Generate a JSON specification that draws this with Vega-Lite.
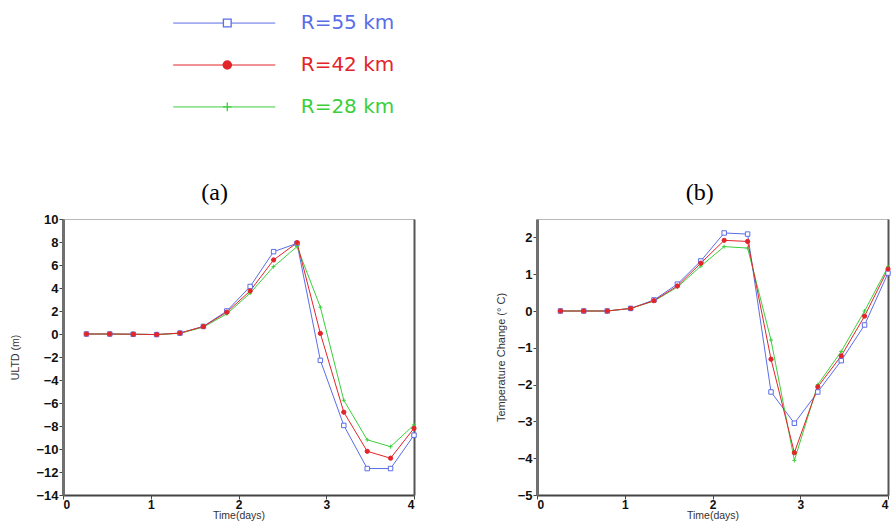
{
  "$schema": "https://vega.github.io/schema/vega-lite/v6.json",
  "background": "white",
  "padding": {"left": 10, "top": 0, "right": 0, "bottom": 0},
  "config": {
    "view": {"stroke": "#b8b8b8", "strokeWidth": 1},
    "font": "Liberation Sans",
    "axis": {
      "grid": false,
      "labelFont": "Liberation Sans",
      "labelFontWeight": "bold",
      "labelFontSize": 13,
      "labelColor": "#111111",
      "titleFont": "Liberation Sans",
      "titleFontWeight": "normal",
      "titleFontSize": 10.5,
      "titleColor": "#333333",
      "tickColor": "#444444",
      "tickSize": 4,
      "domainColor": "#555555"
    },
    "title": {"font": "Liberation Serif", "fontSize": 24, "fontWeight": "normal", "color": "#000000", "offset": 8, "baseline": "bottom", "anchor": "middle", "frame": "bounds"}
  },
  "resolve": {"scale": {"size": "independent"}},
  "datasets": {
    "legend": [
      {"R": "R=55 km", "label": "R=55  km"},
      {"R": "R=42 km", "label": "R=42  km"},
      {"R": "R=28 km", "label": "R=28  km"}
    ],
    "a": [
      {"R": "R=55 km", "t": 0.267, "v": 0},
      {"R": "R=55 km", "t": 0.533, "v": 0},
      {"R": "R=55 km", "t": 0.8, "v": -0.02},
      {"R": "R=55 km", "t": 1.067, "v": -0.05},
      {"R": "R=55 km", "t": 1.333, "v": 0.08},
      {"R": "R=55 km", "t": 1.6, "v": 0.66},
      {"R": "R=55 km", "t": 1.867, "v": 2.0},
      {"R": "R=55 km", "t": 2.133, "v": 4.13},
      {"R": "R=55 km", "t": 2.4, "v": 7.16},
      {"R": "R=55 km", "t": 2.667, "v": 7.88},
      {"R": "R=55 km", "t": 2.933, "v": -2.29},
      {"R": "R=55 km", "t": 3.2, "v": -7.95},
      {"R": "R=55 km", "t": 3.467, "v": -11.7},
      {"R": "R=55 km", "t": 3.733, "v": -11.7},
      {"R": "R=55 km", "t": 4.0, "v": -8.8},
      {"R": "R=28 km", "t": 0.267, "v": 0},
      {"R": "R=28 km", "t": 0.533, "v": 0},
      {"R": "R=28 km", "t": 0.8, "v": -0.02},
      {"R": "R=28 km", "t": 1.067, "v": -0.05},
      {"R": "R=28 km", "t": 1.333, "v": 0.06},
      {"R": "R=28 km", "t": 1.6, "v": 0.6},
      {"R": "R=28 km", "t": 1.867, "v": 1.75},
      {"R": "R=28 km", "t": 2.133, "v": 3.55},
      {"R": "R=28 km", "t": 2.4, "v": 5.86},
      {"R": "R=28 km", "t": 2.667, "v": 7.6},
      {"R": "R=28 km", "t": 2.933, "v": 2.33},
      {"R": "R=28 km", "t": 3.2, "v": -5.76},
      {"R": "R=28 km", "t": 3.467, "v": -9.2},
      {"R": "R=28 km", "t": 3.733, "v": -9.8},
      {"R": "R=28 km", "t": 4.0, "v": -7.9},
      {"R": "R=42 km", "t": 0.267, "v": 0},
      {"R": "R=42 km", "t": 0.533, "v": 0},
      {"R": "R=42 km", "t": 0.8, "v": -0.02},
      {"R": "R=42 km", "t": 1.067, "v": -0.05},
      {"R": "R=42 km", "t": 1.333, "v": 0.08},
      {"R": "R=42 km", "t": 1.6, "v": 0.65},
      {"R": "R=42 km", "t": 1.867, "v": 1.9},
      {"R": "R=42 km", "t": 2.133, "v": 3.75},
      {"R": "R=42 km", "t": 2.4, "v": 6.44},
      {"R": "R=42 km", "t": 2.667, "v": 7.94},
      {"R": "R=42 km", "t": 2.933, "v": 0.05},
      {"R": "R=42 km", "t": 3.2, "v": -6.8},
      {"R": "R=42 km", "t": 3.467, "v": -10.2},
      {"R": "R=42 km", "t": 3.733, "v": -10.8},
      {"R": "R=42 km", "t": 4.0, "v": -8.2}
    ],
    "b": [
      {"R": "R=55 km", "t": 0.267, "v": 0},
      {"R": "R=55 km", "t": 0.533, "v": 0},
      {"R": "R=55 km", "t": 0.8, "v": 0},
      {"R": "R=55 km", "t": 1.067, "v": 0.07},
      {"R": "R=55 km", "t": 1.333, "v": 0.3},
      {"R": "R=55 km", "t": 1.6, "v": 0.73},
      {"R": "R=55 km", "t": 1.867, "v": 1.36},
      {"R": "R=55 km", "t": 2.133, "v": 2.12},
      {"R": "R=55 km", "t": 2.4, "v": 2.09},
      {"R": "R=55 km", "t": 2.667, "v": -2.2},
      {"R": "R=55 km", "t": 2.933, "v": -3.05},
      {"R": "R=55 km", "t": 3.2, "v": -2.2},
      {"R": "R=55 km", "t": 3.467, "v": -1.35},
      {"R": "R=55 km", "t": 3.733, "v": -0.38},
      {"R": "R=55 km", "t": 4.0, "v": 1.03},
      {"R": "R=28 km", "t": 0.267, "v": 0},
      {"R": "R=28 km", "t": 0.533, "v": 0},
      {"R": "R=28 km", "t": 0.8, "v": 0},
      {"R": "R=28 km", "t": 1.067, "v": 0.07},
      {"R": "R=28 km", "t": 1.333, "v": 0.27},
      {"R": "R=28 km", "t": 1.6, "v": 0.65},
      {"R": "R=28 km", "t": 1.867, "v": 1.22},
      {"R": "R=28 km", "t": 2.133, "v": 1.75},
      {"R": "R=28 km", "t": 2.4, "v": 1.71},
      {"R": "R=28 km", "t": 2.667, "v": -0.79},
      {"R": "R=28 km", "t": 2.933, "v": -4.06},
      {"R": "R=28 km", "t": 3.2, "v": -2.0},
      {"R": "R=28 km", "t": 3.467, "v": -1.1},
      {"R": "R=28 km", "t": 3.733, "v": 0.0},
      {"R": "R=28 km", "t": 4.0, "v": 1.2},
      {"R": "R=42 km", "t": 0.267, "v": 0},
      {"R": "R=42 km", "t": 0.533, "v": 0},
      {"R": "R=42 km", "t": 0.8, "v": 0},
      {"R": "R=42 km", "t": 1.067, "v": 0.07},
      {"R": "R=42 km", "t": 1.333, "v": 0.28},
      {"R": "R=42 km", "t": 1.6, "v": 0.68},
      {"R": "R=42 km", "t": 1.867, "v": 1.3},
      {"R": "R=42 km", "t": 2.133, "v": 1.92},
      {"R": "R=42 km", "t": 2.4, "v": 1.89},
      {"R": "R=42 km", "t": 2.667, "v": -1.31},
      {"R": "R=42 km", "t": 2.933, "v": -3.85},
      {"R": "R=42 km", "t": 3.2, "v": -2.06},
      {"R": "R=42 km", "t": 3.467, "v": -1.22},
      {"R": "R=42 km", "t": 3.733, "v": -0.14},
      {"R": "R=42 km", "t": 4.0, "v": 1.14}
    ]
  },
  "spacing": 50,
  "vconcat": [
    {
      "width": 351,
      "height": 130,
      "view": {"stroke": null},
      "data": {"name": "legend"},
      "encoding": {
        "y": {"field": "R", "type": "nominal", "sort": ["R=55 km", "R=42 km", "R=28 km"], "scale": {"type": "point", "padding": 0.55}, "axis": null}
      },
      "layer": [
        {
          "mark": {"type": "rule", "strokeWidth": 1},
          "encoding": {
            "x": {"datum": 0, "type": "quantitative", "scale": {"domain": [-1.08, 2.36], "nice": false, "zero": false}, "axis": null},
            "x2": {"datum": 1},
            "color": {"field": "R", "type": "nominal", "scale": {"domain": ["R=55 km", "R=42 km", "R=28 km"], "range": ["#5a6de8", "#e3242b", "#3ccf3c"]}, "legend": null}
          }
        },
        {
          "mark": {"type": "point", "filled": true, "opacity": 1, "strokeWidth": 1.3},
          "encoding": {
            "x": {"datum": 0.53, "type": "quantitative"},
            "shape": {"field": "R", "type": "nominal", "scale": {"domain": ["R=55 km", "R=42 km", "R=28 km"], "range": ["square", "circle", "M-1,0H1M0,-1V1"]}, "legend": null},
            "stroke": {"field": "R", "type": "nominal", "scale": {"domain": ["R=55 km", "R=42 km", "R=28 km"], "range": ["#5a6de8", "#e3242b", "#3ccf3c"]}, "legend": null},
            "fill": {"field": "R", "type": "nominal", "scale": {"domain": ["R=55 km", "R=42 km", "R=28 km"], "range": ["#ffffff", "#e3242b", "transparent"]}, "legend": null},
            "size": {"field": "R", "type": "ordinal", "scale": {"domain": ["R=55 km", "R=42 km", "R=28 km"], "range": [60, 75, 70]}, "legend": null}
          }
        },
        {
          "mark": {"type": "text", "align": "left", "baseline": "middle", "font": "DejaVu Sans", "fontSize": 20},
          "encoding": {
            "x": {"datum": 1.25, "type": "quantitative"},
            "text": {"field": "label"},
            "color": {"field": "R", "type": "nominal", "scale": {"domain": ["R=55 km", "R=42 km", "R=28 km"], "range": ["#5a6de8", "#e3242b", "#3ccf3c"]}, "legend": null}
          }
        }
      ]
    },
    {
      "spacing": 75,
      "hconcat": [
        {
          "width": 351,
          "height": 276,
          "title": {"text": "(a)"},
          "data": {"name": "a"},
          "encoding": {
            "x": {"field": "t", "type": "quantitative", "scale": {"domain": [0, 4], "nice": false},
              "axis": {"values": [0, 1, 2, 3, 4], "format": "d", "title": "Time(days)", "titleFontSize": 10.5, "titlePadding": 0, "labelPadding": 0, "labelFontSize": 12, "domainWidth": 2, "domainColor": "#444444"}},
            "y": {"field": "v", "type": "quantitative", "scale": {"domain": [-14, 10], "nice": false},
              "axis": {"values": [-14, -12, -10, -8, -6, -4, -2, 0, 2, 4, 6, 8, 10], "title": "ULTD (m)", "titlePadding": 15, "labelPadding": 1, "domainWidth": 3, "domainColor": "#707070"}}
          },
          "layer": [
            {
              "mark": {"type": "line", "strokeWidth": 1},
              "encoding": {
                "color": {"field": "R", "type": "nominal", "sort": null, "scale": {"domain": ["R=55 km", "R=42 km", "R=28 km"], "range": ["#5a6de8", "#e3242b", "#3ccf3c"]}, "legend": null}
              }
            },
            {
              "mark": {"type": "point", "filled": true, "opacity": 1, "strokeWidth": 1},
              "encoding": {
                "y": {"field": "v", "type": "quantitative", "axis": {"orient": "right", "labels": false, "ticks": false, "title": null, "domainWidth": 2, "domainColor": "#555555"}},
                "shape": {"field": "R", "type": "nominal", "scale": {"domain": ["R=55 km", "R=42 km", "R=28 km"], "range": ["square", "circle", "M-1,0H1M0,-1V1"]}, "legend": null},
                "stroke": {"field": "R", "type": "nominal", "scale": {"domain": ["R=55 km", "R=42 km", "R=28 km"], "range": ["#5a6de8", "#e3242b", "#3ccf3c"]}, "legend": null},
                "fill": {"field": "R", "type": "nominal", "scale": {"domain": ["R=55 km", "R=42 km", "R=28 km"], "range": ["#ffffff", "#e3242b", "transparent"]}, "legend": null},
                "size": {"field": "R", "type": "ordinal", "scale": {"domain": ["R=55 km", "R=42 km", "R=28 km"], "range": [20, 16, 30]}, "legend": null}
              }
            }
          ],
          "resolve": {"axis": {"y": "independent"}}
        },
        {
          "width": 351,
          "height": 276,
          "title": {"text": "(b)", "offset": 14.5, "dx": 6},
          "data": {"name": "b"},
          "encoding": {
            "x": {"field": "t", "type": "quantitative", "scale": {"domain": [0, 4], "nice": false},
              "axis": {"values": [0, 1, 2, 3, 4], "format": "d", "title": "Time(days)", "titleFontSize": 10.5, "titlePadding": 0, "labelPadding": 0, "labelFontSize": 12, "domainWidth": 2, "domainColor": "#444444"}},
            "y": {"field": "v", "type": "quantitative", "scale": {"domain": [-5, 2.5], "nice": false},
              "axis": {"values": [-5, -4, -3, -2, -1, 0, 1, 2], "format": "d", "title": "Temperature Change (° C)", "titleFontSize": 11, "titlePadding": 11, "labelPadding": 1, "domainWidth": 3, "domainColor": "#707070"}}
          },
          "layer": [
            {
              "mark": {"type": "line", "strokeWidth": 1},
              "encoding": {
                "color": {"field": "R", "type": "nominal", "sort": null, "scale": {"domain": ["R=55 km", "R=42 km", "R=28 km"], "range": ["#5a6de8", "#e3242b", "#3ccf3c"]}, "legend": null}
              }
            },
            {
              "mark": {"type": "point", "filled": true, "opacity": 1, "strokeWidth": 1},
              "encoding": {
                "y": {"field": "v", "type": "quantitative", "axis": {"orient": "right", "labels": false, "ticks": false, "title": null, "domainWidth": 2, "domainColor": "#555555"}},
                "shape": {"field": "R", "type": "nominal", "scale": {"domain": ["R=55 km", "R=42 km", "R=28 km"], "range": ["square", "circle", "M-1,0H1M0,-1V1"]}, "legend": null},
                "stroke": {"field": "R", "type": "nominal", "scale": {"domain": ["R=55 km", "R=42 km", "R=28 km"], "range": ["#5a6de8", "#e3242b", "#3ccf3c"]}, "legend": null},
                "fill": {"field": "R", "type": "nominal", "scale": {"domain": ["R=55 km", "R=42 km", "R=28 km"], "range": ["#ffffff", "#e3242b", "transparent"]}, "legend": null},
                "size": {"field": "R", "type": "ordinal", "scale": {"domain": ["R=55 km", "R=42 km", "R=28 km"], "range": [20, 16, 30]}, "legend": null}
              }
            }
          ],
          "resolve": {"axis": {"y": "independent"}}
        }
      ]
    }
  ]
}
